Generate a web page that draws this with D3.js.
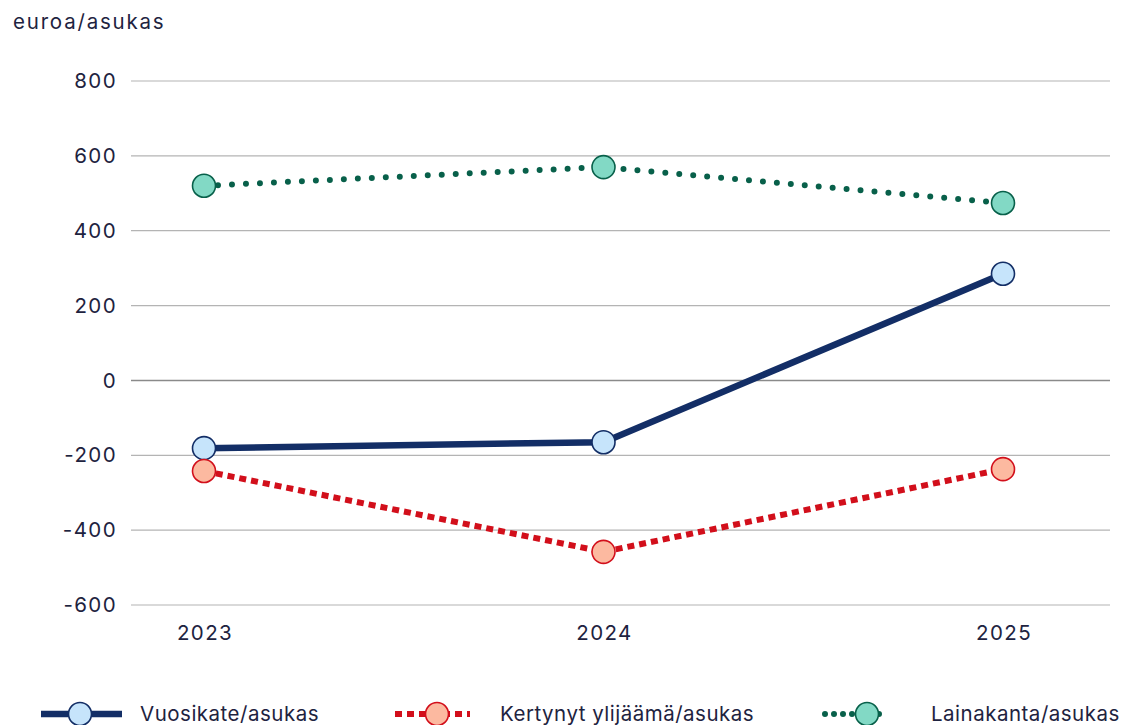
<!DOCTYPE html>
<html>
<head>
<meta charset="utf-8">
<script src="https://cdn.jsdelivr.net/npm/d3@7"></script>
<style>
  body { margin: 0; background: #fff; }
  text { font-family: Inter, "Noto Sans", sans-serif; fill: #1e2340; font-size: 20.5px; letter-spacing: 1.4px; }
  .title { letter-spacing: 1.8px; }
  .legend text { letter-spacing: 0.5px; }
</style>
</head>
<body>
<div id="chart"></div>
<script>
// data
let years = ["2023", "2024", "2025"];
let vuosikate = [-181, -165, 285];
let kertynyt = [-242, -458, -237];
let lainakanta = [520, 570, 474];
let yTicks = [-600, -400, -200, 0, 200, 400, 600, 800];

let series = [
    {name: "Vuosikate/asukas", values: vuosikate, stroke: "#132e66", fill: "#c6e4fb", edge: "#132e66", width: 6.5, dash: null, cap: "butt"},
    {name: "Kertynyt ylijäämä/asukas", values: kertynyt, stroke: "#d20f1b", fill: "#fcb9a0", edge: "#d20f1b", width: 6, dash: "7,5", cap: "butt"},
    {name: "Lainakanta/asukas", values: lainakanta, stroke: "#08604a", fill: "#82d9c5", edge: "#08604a", width: 6, dash: "0,14", cap: "round"}
];

var W = 1126, H = 725;
var gridLeft = 131, gridRight = 1110;

var svg = d3.select("#chart").append("svg")
    .attr("width", W).attr("height", H);

var x = d3.scalePoint().domain(years).range([204, 1003]);
var y = d3.scaleLinear().domain([-600, 800]).range([605, 81]);

// title of the y axis
svg.append("text")
    .attr("class", "title")
    .attr("x", 13).attr("y", 29)
    .text("euroa/asukas");

// gridlines
svg.append("g").selectAll("line")
    .data(yTicks)
    .join("line")
    .attr("x1", gridLeft).attr("x2", gridRight)
    .attr("y1", d => y(d)).attr("y2", d => y(d))
    .attr("stroke", d => d == 0 ? "#8a8a8a" : "#b4b4b4")
    .attr("stroke-width", d => d == 0 ? 1.6 : 1.2);

// y tick labels
svg.append("g").selectAll("text")
    .data(yTicks)
    .join("text")
    .attr("x", 117).attr("y", d => y(d))
    .attr("dy", "0.35em")
    .attr("text-anchor", "end")
    .text(d => d < 0 ? "-" + Math.abs(d) : d);

// x tick labels
svg.append("g").selectAll("text")
    .data(years)
    .join("text")
    .attr("x", d => x(d) + 1).attr("y", 640)
    .attr("text-anchor", "middle")
    .text(d => d);

var line = d3.line()
    .x((d, i) => x(years[i]))
    .y(d => y(d));

// lines then markers
series.forEach(function (s) {
    svg.append("path")
        .datum(s.values)
        .attr("d", line)
        .attr("fill", "none")
        .attr("stroke", s.stroke)
        .attr("stroke-width", s.width)
        .attr("stroke-linecap", s.cap)
        .attr("stroke-dasharray", s.dash);
});
series.forEach(function (s) {
    svg.append("g").selectAll("circle")
        .data(s.values)
        .join("circle")
        .attr("cx", (d, i) => x(years[i]))
        .attr("cy", d => y(d))
        .attr("r", 11.5)
        .attr("fill", s.fill)
        .attr("stroke", s.edge)
        .attr("stroke-width", 1.6);
});

// legend
var legendX = [41, 395, 825];
var legendTextX = [140, 500, 931];
var legendLen = [81, 75, 62];
var legendCircle = [80, 437, 867];
var ly = 714;
var legend = svg.append("g").attr("class", "legend").selectAll("g")
    .data(series)
    .join("g");
legend.append("line")
    .attr("x1", (d, i) => legendX[i])
    .attr("x2", (d, i) => legendX[i] + legendLen[i])
    .attr("y1", ly).attr("y2", ly)
    .attr("stroke", d => d.stroke)
    .attr("stroke-width", d => d.width)
    .attr("stroke-linecap", d => d.cap)
    .attr("stroke-dasharray", (d, i) => i == 2 ? "0,9" : d.dash);
legend.append("circle")
    .attr("cx", (d, i) => legendCircle[i])
    .attr("cy", ly)
    .attr("r", 11.5)
    .attr("fill", d => d.fill)
    .attr("stroke", d => d.edge)
    .attr("stroke-width", 1.6);
legend.append("text")
    .attr("x", (d, i) => legendTextX[i])
    .attr("y", ly).attr("dy", "0.35em")
    .text(d => d.name);
</script>
</body>
</html>
